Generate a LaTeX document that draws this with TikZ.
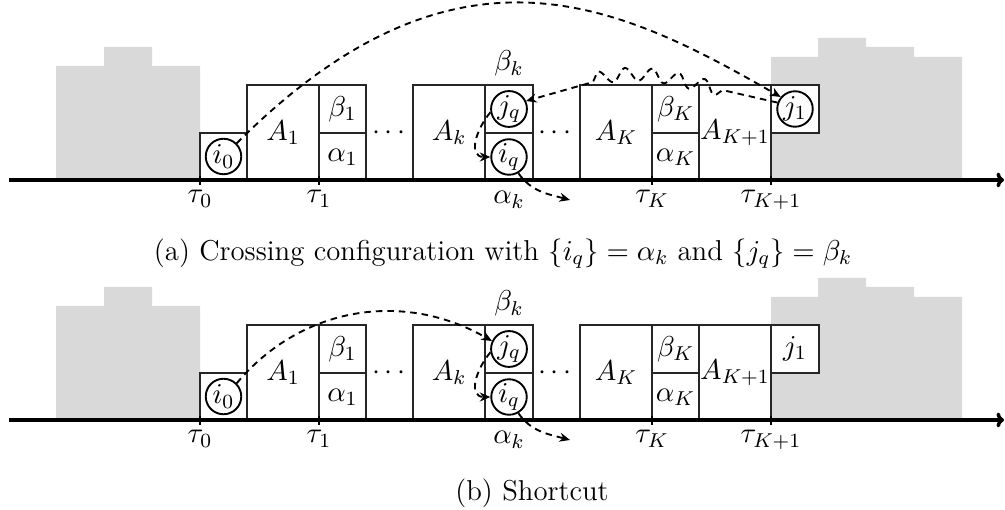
\RequirePackage{fix-cm}
\documentclass[tikz,border=0pt]{standalone}
\usetikzlibrary{decorations.pathmorphing,arrows.meta}
\tikzset{
  box/.style={draw=black!85,line width=0.45pt},
  whitebox/.style={draw=black!85,line width=0.45pt,fill=white},
  graybg/.style={fill=black!15,draw=none},
  lbl/.style={inner sep=0pt},
  vx/.style={circle,draw=black,line width=0.75pt,inner sep=0pt,minimum size=14.2pt},
  conn/.style={line width=0.75pt,dash pattern=on 2.6pt off 2pt,-{Stealth[length=4.2pt,width=3.6pt]}},
  snakeconn/.style={conn,decorate,decoration={snake,amplitude=2.6pt,segment length=10.5pt,pre length=22pt,post length=26pt}},
  axisline/.style={line width=1.4pt,-{To[length=3pt,width=6pt]}},
  tickmark/.style={line width=0.6pt},
}
\newcommand\drawpanel[2]{%
\begin{scope}[shift={(0,#2)}]
 \fill[graybg] (56,180) -- (56,66) -- (104,66) -- (104,47) -- (152,47) -- (152,66) -- (200,66) -- (200,180) -- cycle;
 \fill[graybg] (771,180) -- (771,57) -- (818,57) -- (818,38) -- (866,38) -- (866,47) -- (914,47) -- (914,57) -- (962,57) -- (962,180) -- cycle;
 \draw[box] (200,133) rectangle (247,180);
 \draw[box] (247,85) rectangle (319,180);
 \draw[box] (319,85) rectangle (366,180);
 \draw[box] (319,133) -- (366,133);
 \draw[box] (413,85) rectangle (485,180);
 \draw[box] (485,85) rectangle (533,180);
 \draw[box] (485,133) -- (533,133);
 \draw[box] (580,85) rectangle (652,180);
 \draw[box] (652,85) rectangle (699,180);
 \draw[box] (652,133) -- (699,133);
 \draw[box] (699,85) rectangle (771,180);
 \draw[whitebox] (771,85) rectangle (819,133);
 \node[lbl] (#1-A1) at (283,133) {$A_1$};
 \node[lbl] (#1-b1) at (342.5,109) {$\beta_1$};
 \node[lbl] (#1-a1) at (342.5,157) {$\alpha_1$};
 \node[lbl] (#1-d1) at (389,133) {$\cdots$};
 \node[lbl] (#1-Ak) at (449,133) {$A_k$};
 \node[lbl,anchor=base] (#1-bk) at (509,71) {$\beta_k$};
 \node[lbl,anchor=base] (#1-ak) at (509,204) {$\alpha_k$};
 \node[lbl] (#1-d2) at (555,133) {$\cdots$};
 \node[lbl] (#1-AK) at (616,133) {$A_K$};
 \node[lbl] (#1-bK) at (675.5,109) {$\beta_K$};
 \node[lbl] (#1-aK) at (675.5,157) {$\alpha_K$};
 \node[lbl] (#1-AK1) at (735,133) {$A_{K+1}$};
 \node[vx] (#1-i0) at (223.5,156.5) {$i_0$};
 \node[vx] (#1-jq) at (509,109) {$j_q$};
 \node[vx] (#1-iq) at (509,157) {$i_q$};
 \coordinate (#1-axs) at (9,180);
 \coordinate (#1-axe) at (1004,180);
 \coordinate (#1-out) at (570,200);
 \draw[axisline] (#1-axs) -- (#1-axe);
 \foreach \x/\t/\n in {200/0/t0,319/1/t1,652/K/tK,771/{K+1}/tK1} {
   \draw[tickmark] (\x,176) -- (\x,185);
   \node[lbl,anchor=base] (#1-\n) at (\x,203) {$\tau_{\t}$};
 }
 \draw[conn] (#1-jq.190) to[out=230,in=180,looseness=1.3] (#1-iq.west);
 \draw[conn] (#1-iq.-60) to[out=-55,in=165] (#1-out);
\end{scope}}
\begin{document}
\begin{tikzpicture}[x=0.4pt,y=-0.4pt,font=\fontsize{11.5}{14}\selectfont]
\useasboundingbox (0,0) rectangle (1005,510);
\drawpanel{a}{0}
\drawpanel{b}{240}
% panel (a) extras
\node[vx] (a-j1) at (795,109) {$j_1$};
\draw[conn] (a-i0.45) .. controls +(220,-220) and +(-160,-92) .. (a-j1.140);
\draw[snakeconn] (a-j1.160) to[out=168,in=17,looseness=1.4] (a-jq.25);
\node[lbl] (capa) at (503,254) {(a) Crossing configuration with $\{i_q\}=\alpha_k$ and $\{j_q\}=\beta_k$};
% panel (b) extras
\node[lbl] (b-j1) at (795,349) {$j_1$};
\draw[conn] (b-i0.45) to[out=50,in=150] (b-jq.155);
\node[lbl] (capb) at (532,493) {(b) Shortcut};
\end{tikzpicture}
\end{document}
